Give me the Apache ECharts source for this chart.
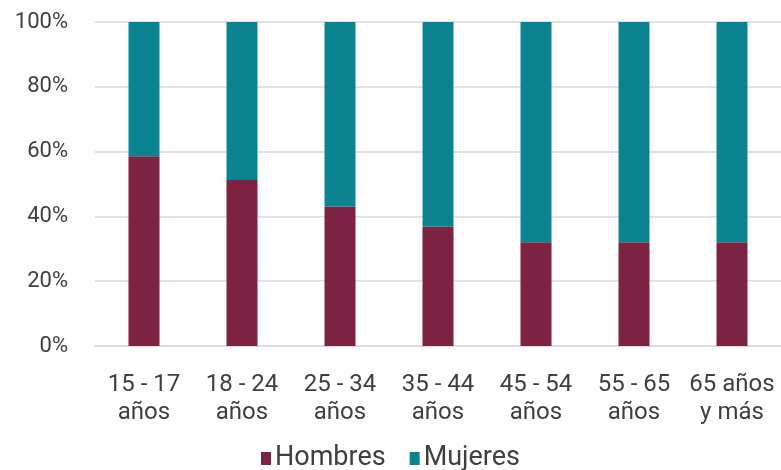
<!DOCTYPE html>
<html>
<head>
<meta charset="utf-8">
<script src="https://cdn.jsdelivr.net/npm/echarts@6/dist/echarts.min.js"></script>
<style>html,body{margin:0;padding:0;background:#fff;}#chart{width:781px;height:470px;}</style>
</head>
<body>
<div id="chart"></div>
<script>
const categories = ["15 - 17\naños", "18 - 24\naños", "25 - 34\naños", "35 - 44\naños", "45 - 54\naños", "55 - 65\naños", "65 años\ny más"];
const hombres = [58.6, 51.2, 43.0, 36.8, 32.0, 32.0, 32.0];
const mujeres = [41.4, 48.8, 57.0, 63.2, 68.0, 68.0, 68.0];
const yTicks = [0, 20, 40, 60, 80, 100];

const chart = echarts.init(document.getElementById('chart'), null, {renderer: 'canvas'});
const font = 'Roboto, "Noto Sans", sans-serif';
chart.setOption({
  animation: false,
  textStyle: {fontFamily: font},
  grid: {left: 95, width: 692, top: 22, bottom: 124},
  legend: {
    bottom: -7, left: 'center',
    itemWidth: 10, itemHeight: 13, itemGap: 24,
    icon: 'rect',
    textStyle: {fontSize: 27, color: '#404040', fontFamily: font, padding: [0, 0, 0, -1]},
    data: ['Hombres', 'Mujeres']
  },
  xAxis: {
    type: 'category', data: categories,
    axisLine: {show: true, lineStyle: {color: '#d9d9d9', width: 1.5}},
    axisTick: {show: false},
    axisLabel: {fontSize: 24, color: '#404040', lineHeight: 28, margin: 25, interval: 0, fontFamily: font}
  },
  yAxis: {
    type: 'value', min: 0, max: 100, interval: 20,
    axisLine: {show: false}, axisTick: {show: false},
    splitLine: {lineStyle: {color: '#d9d9d9', width: 1.5}},
    axisLabel: {fontSize: 22, color: '#404040', margin: 27, fontFamily: font,
      formatter: v => yTicks.includes(v) ? v + '%' : ''}
  },
  series: [
    {name: 'Hombres', type: 'bar', stack: 't', data: hombres, barWidth: 31, itemStyle: {color: '#7D2242'}},
    {name: 'Mujeres', type: 'bar', stack: 't', data: mujeres, barWidth: 31, itemStyle: {color: '#0C8391'}}
  ]
});
</script>
</body>
</html>
